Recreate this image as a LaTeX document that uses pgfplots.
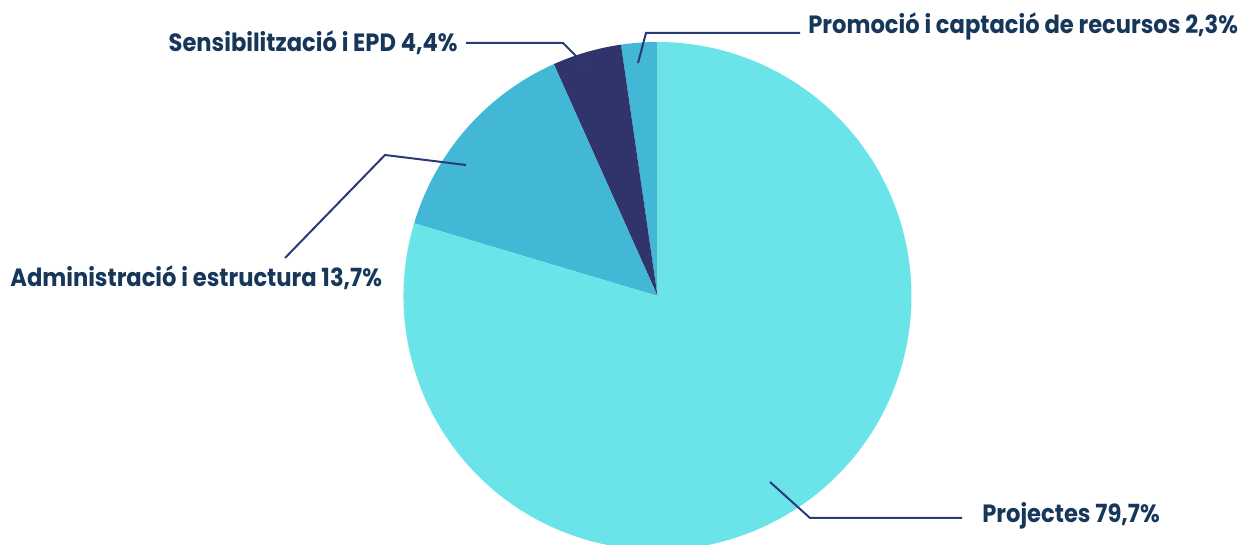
\documentclass[border=0pt]{standalone}
\usepackage{pgfplots}
\usepackage{pgfplotstable}
\pgfplotsset{compat=1.18}
\usepackage{fontspec}
\setmainfont{Poppins}
\definecolor{projc}{HTML}{6AE4E8}
\definecolor{admc}{HTML}{43B8D6}
\definecolor{sensc}{HTML}{30346A}
\definecolor{txtc}{HTML}{17375A}
\definecolor{linec}{HTML}{2A3A78}
\pgfplotstableread{
name value
Promocio 2.3
Sensibilitzacio 4.4
Administracio 13.7
Projectes 79.7
}\pietable
\tikzset{lab/.style={inner sep=0pt,text=txtc,xscale=0.905,font=\bfseries\fontsize{12.5}{14}\selectfont}}
\begin{document}
\begin{tikzpicture}
\pgfplotstablegetelem{0}{value}\of\pietable \let\va\pgfplotsretval
\pgfplotstablegetelem{1}{value}\of\pietable \let\vb\pgfplotsretval
\pgfplotstablegetelem{2}{value}\of\pietable \let\vc\pgfplotsretval
\pgfplotstablegetelem{3}{value}\of\pietable \let\vd\pgfplotsretval
\pgfmathsetmacro\total{\va+\vb+\vc+\vd}
\pgfmathsetmacro\aA{90}
\pgfmathsetmacro\aB{\aA+\va/\total*360}
\pgfmathsetmacro\aC{\aB+\vb/\total*360}
\pgfmathsetmacro\aD{\aC+\vc/\total*360}
\pgfmathsetmacro\aE{\aD+\vd/\total*360}
\begin{axis}[width=619.5pt,height=272.5pt,scale only axis,
  xmin=0,xmax=1239,ymin=0,ymax=545,hide axis,clip=false]
\fill[admc] (axis cs:657.5,249) -- ++(\aA:127pt) arc[start angle=\aA,end angle=\aB,radius=127pt] -- cycle;
\fill[sensc] (axis cs:657.5,249) -- ++(\aB:127pt) arc[start angle=\aB,end angle=\aC,radius=127pt] -- cycle;
\fill[admc] (axis cs:657.5,249) -- ++(\aC:127pt) arc[start angle=\aC,end angle=\aD,radius=127pt] -- cycle;
\fill[projc] (axis cs:657.5,249) -- ++(\aD:127pt) arc[start angle=\aD,end angle=\aE,radius=127pt] -- cycle;
\addplot[linec,line width=1pt] coordinates {(466,502) (563,502) (588,477)};
\addplot[linec,line width=1pt] coordinates {(638,482) (646,512) (800,512)};
\addplot[linec,line width=1pt] coordinates {(285,287) (385,390) (466,380)};
\addplot[linec,line width=1pt] coordinates {(770,63) (810,27) (962,27)};
\node[lab,anchor=base east] at (axis cs:458,493) {Sensibilització i EPD 4,4\%};
\node[lab,anchor=base west] at (axis cs:808,511) {Promoció i captació de recursos 2,3\%};
\node[lab,anchor=base west] at (axis cs:10,258) {Administració i estructura 13,7\%};
\node[lab,anchor=base west] at (axis cs:982,22) {Projectes 79,7\%};
\end{axis}
\pgfresetboundingbox
\useasboundingbox (current axis.south west) rectangle (current axis.north east);
\end{tikzpicture}
\end{document}
